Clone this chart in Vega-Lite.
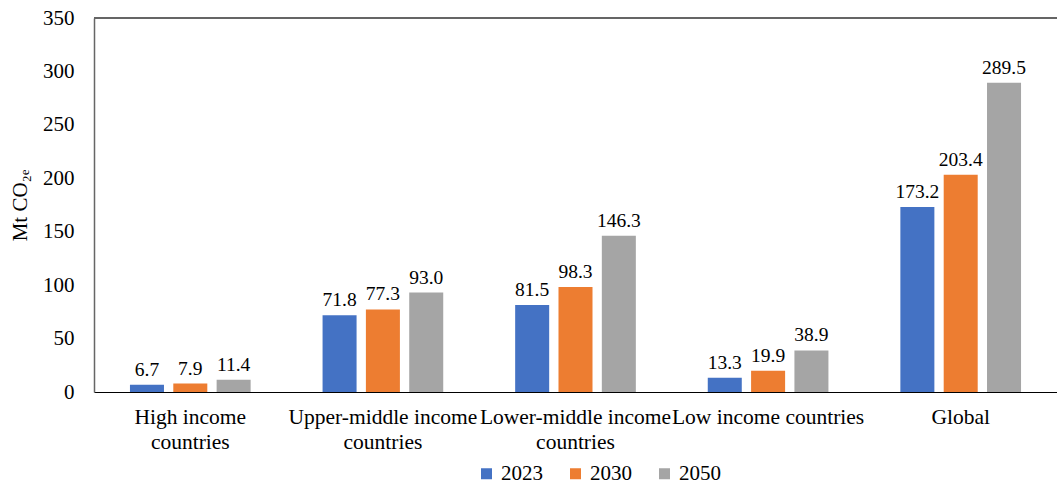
{
  "$schema": "https://vega.github.io/schema/vega-lite/v6.json",
  "autosize": {"type": "none"},
  "padding": {"left": 94, "top": 18, "right": 0, "bottom": 92},
  "width": 963,
  "height": 374,
  "background": "white",
  "config": {
    "view": {"stroke": null},
    "font": "Liberation Serif"
  },
  "data": {
    "values": [
      {"region": "High income countries", "year": "2023", "value": 6.7},
      {"region": "High income countries", "year": "2030", "value": 7.9},
      {"region": "High income countries", "year": "2050", "value": 11.4},
      {"region": "Upper-middle income countries", "year": "2023", "value": 71.8},
      {"region": "Upper-middle income countries", "year": "2030", "value": 77.3},
      {"region": "Upper-middle income countries", "year": "2050", "value": 93.0},
      {"region": "Lower-middle income countries", "year": "2023", "value": 81.5},
      {"region": "Lower-middle income countries", "year": "2030", "value": 98.3},
      {"region": "Lower-middle income countries", "year": "2050", "value": 146.3},
      {"region": "Low income countries", "year": "2023", "value": 13.3},
      {"region": "Low income countries", "year": "2030", "value": 19.9},
      {"region": "Low income countries", "year": "2050", "value": 38.9},
      {"region": "Global", "year": "2023", "value": 173.2},
      {"region": "Global", "year": "2030", "value": 203.4},
      {"region": "Global", "year": "2050", "value": 289.5}
    ]
  },
  "layer": [
    {
      "mark": {"type": "bar"},
      "encoding": {
        "x": {
          "field": "region", "type": "nominal", "sort": null,
          "scale": {"paddingInner": 0, "paddingOuter": 0},
          "axis": {
            "title": null, "labelAngle": 0, "ticks": false,
            "domainColor": "#000000", "domainWidth": 1,
            "labelFont": "Liberation Serif", "labelFontSize": 21.5, "labelColor": "#000000",
            "labelPadding": 25, "labelLineHeight": 25, "labelBaseline": "middle",
            "labelLimit": 300,
            "labelExpr": "datum.value == 'Low income countries' || datum.value == 'Global' ? datum.value : [replace(datum.value, ' countries', ''), 'countries']"
          }
        },
        "xOffset": {
          "field": "year", "type": "nominal",
          "scale": {"paddingInner": 0.215, "paddingOuter": 0.83}
        },
        "y": {
          "field": "value", "type": "quantitative",
          "scale": {"domain": [0, 350], "nice": false},
          "axis": {
            "title": "Mt CO₂ₑ", "titleFont": "Liberation Serif", "titleFontSize": 21,
            "titleFontWeight": "normal", "titleColor": "#000000", "titlePadding": 12,
            "values": [0, 50, 100, 150, 200, 250, 300, 350],
            "grid": false, "ticks": false,
            "domainColor": "#666666", "domainWidth": 1.5,
            "labelFont": "Liberation Serif", "labelFontSize": 21, "labelColor": "#000000",
            "labelPadding": 20
          }
        },
        "color": {
          "field": "year", "type": "nominal",
          "scale": {"domain": ["2023", "2030", "2050"], "range": ["#4472C4", "#ED7D31", "#A5A5A5"]},
          "legend": {
            "title": null, "orient": "none", "direction": "horizontal",
            "legendX": 382, "legendY": 445,
            "symbolType": "square", "symbolSize": 121, "symbolStrokeWidth": 0,
            "symbolOpacity": 1,
            "labelFont": "Liberation Serif", "labelFontSize": 21, "labelColor": "#000000",
            "labelOffset": 4, "columnPadding": 22
          }
        }
      }
    },
    {
      "mark": {"type": "text", "baseline": "alphabetic", "dy": -9, "font": "Liberation Serif", "fontSize": 19.5, "color": "#000000"},
      "encoding": {
        "x": {"field": "region", "type": "nominal", "sort": null},
        "xOffset": {"field": "year", "type": "nominal"},
        "y": {"field": "value", "type": "quantitative"},
        "text": {"field": "value", "type": "quantitative", "format": ".1f"}
      }
    },
    {
      "mark": {"type": "rule", "color": "#666666", "strokeWidth": 1.5},
      "encoding": {"y": {"datum": 350}}
    }
  ]
}
